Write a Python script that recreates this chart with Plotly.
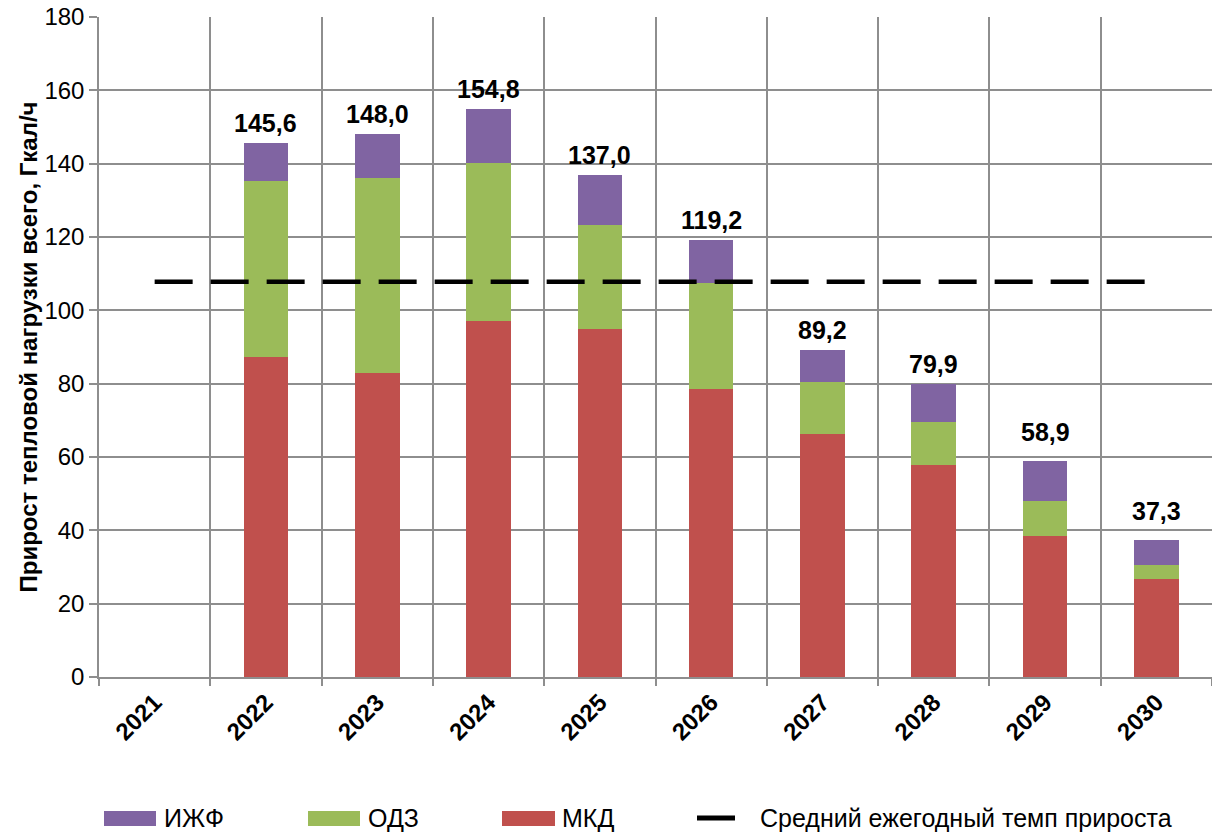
import plotly.graph_objects as go

# Годы и приросты тепловой нагрузки по типам застройки, Гкал/ч
years = ["2021", "2022", "2023", "2024", "2025", "2026", "2027", "2028", "2029", "2030"]
totals = [None, 145.6, 148.0, 154.8, 137.0, 119.2, 89.2, 79.9, 58.9, 37.3]
mkd = [None, 87.4, 82.9, 97.0, 94.8, 78.6, 66.2, 57.8, 38.5, 26.7]
odz = [None, 47.9, 53.2, 43.2, 28.5, 28.9, 14.3, 11.7, 9.6, 3.9]
izhf = [None if t is None else round(t - a - b, 1) for t, a, b in zip(totals, mkd, odz)]
avg_growth = [107.8] * len(years)

label_text = ["" if t is None else f"{t:.1f}".replace(".", ",") for t in totals]
# Отступ подписей над столбцами, px
label_shift = [20, 20, 20, 20, 20, 20, 20, 20, 29, 29]

FONT = "Liberation Sans, Arial, sans-serif"
C_MKD = "#C0504D"
C_ODZ = "#9BBB59"
C_IZHF = "#8064A2"
GRID = "#8E8E8E"

# Поля области построения, px
W, H = 1212, 834
ML, MR, MT, MB = 99, 0, 17, 157
PW, PH = W - ML - MR, H - MT - MB


def px(x):
    return (x - ML) / PW


def py(y):
    return (H - MB - y) / PH


fig = go.Figure()
fig.add_trace(go.Bar(x=years, y=mkd, name="МКД", marker=dict(color=C_MKD, line_width=0)))
fig.add_trace(go.Bar(x=years, y=odz, name="ОДЗ", marker=dict(color=C_ODZ, line_width=0)))
fig.add_trace(go.Bar(x=years, y=izhf, name="ИЖФ", marker=dict(color=C_IZHF, line_width=0)))

fig.add_trace(go.Scatter(
    x=years, y=avg_growth, mode="lines", name="Средний ежегодный темп прироста",
    line=dict(color="black", width=4.5, dash="38px,18px"),
))

annotations = []
# Подписи итоговых значений над столбцами (x — индекс категории на оси)
for i, (t, txt, sh) in enumerate(zip(totals, label_text, label_shift)):
    if t is None:
        continue
    annotations.append(dict(text=txt, x=i, y=t, xref="x", yref="y", yshift=sh,
                            xanchor="center", yanchor="middle", showarrow=False,
                            font=dict(family=FONT, size=25, color="black", weight="bold")))

# Легенда под графиком
legend_items = [
    ("ИЖФ", C_IZHF, 104, 156, 162),
    ("ОДЗ", C_ODZ, 308, 360, 366),
    ("МКД", C_MKD, 502, 555, 560),
]
shapes = []
for name, color, x0, x1, tx in legend_items:
    shapes.append(dict(type="rect", xref="paper", yref="paper",
                       x0=px(x0), x1=px(x1), y0=py(826), y1=py(811),
                       fillcolor=color, line_width=0))
    annotations.append(dict(text=name, xref="paper", yref="paper", x=px(tx), y=py(818),
                            xanchor="left", yanchor="middle", showarrow=False,
                            font=dict(family=FONT, size=25, color="black")))
shapes.append(dict(type="line", xref="paper", yref="paper",
                   x0=px(697), x1=px(735), y0=py(818), y1=py(818),
                   line=dict(color="black", width=5)))
annotations.append(dict(text="Средний ежегодный темп прироста", xref="paper", yref="paper",
                        x=px(758), y=py(818), xanchor="left", yanchor="middle",
                        showarrow=False, font=dict(family=FONT, size=25, color="black")))

fig.update_layout(
    width=W, height=H,
    margin=dict(l=ML, r=MR, t=MT, b=MB),
    paper_bgcolor="white", plot_bgcolor="white",
    barmode="stack", bargap=0.6,
    showlegend=False,
    font=dict(family=FONT, color="black"),
    shapes=shapes, annotations=annotations,
)
fig.update_xaxes(
    type="category", tickson="boundaries",
    categoryorder="array", categoryarray=years,
    showgrid=True, gridcolor=GRID, gridwidth=1.5,
    showline=True, linecolor=GRID, linewidth=1.5,
    ticks="outside", ticklen=7, tickcolor=GRID, tickwidth=1.5,
    tickangle=-45, tickfont=dict(family=FONT, size=24, color="black", weight="bold"),
)
fig.update_yaxes(
    range=[0, 180], dtick=20,
    showgrid=True, gridcolor=GRID, gridwidth=1.5,
    showline=True, linecolor=GRID, linewidth=1.5, zeroline=False,
    ticks="outside", ticklen=8, tickcolor=GRID, tickwidth=1.5,
    tickfont=dict(family=FONT, size=24, color="black"),
    title=dict(text="Прирост тепловой нагрузки всего, Гкал/ч", standoff=0,
               font=dict(family=FONT, size=24, color="black", weight="bold")),
)

fig.write_html("out.html")
